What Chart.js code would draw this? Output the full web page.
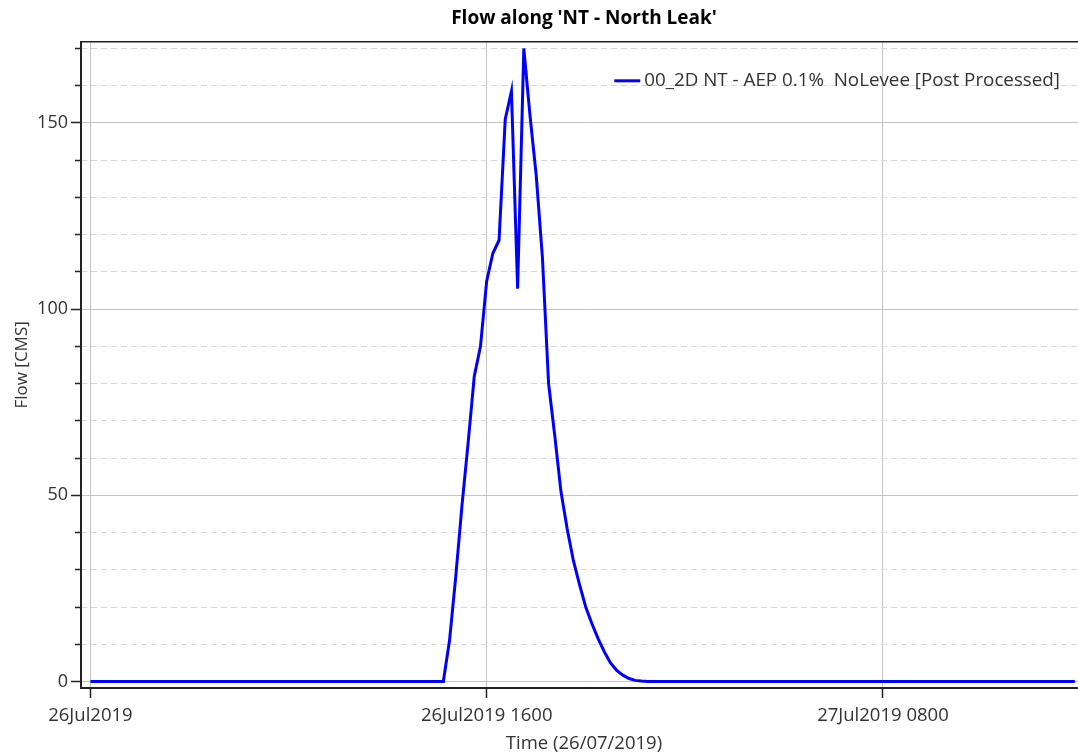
<!DOCTYPE html>
<html>
<head>
<meta charset="utf-8">
<script src="https://cdn.jsdelivr.net/npm/chart.js@4.4.1/dist/chart.umd.min.js"></script>
<style>
  html, body { margin: 0; padding: 0; background: #fff; overflow: hidden; }
  #wrap { width: 1090px; height: 756px; }
</style>
</head>
<body>
<div id="wrap"><canvas id="flow-chart" width="1090" height="756"></canvas></div>
<script>
// Hydrograph: hours since 26Jul2019 0000 -> flow (CMS)
const FLOW_HOURS = [0, 14.25, 14.5, 14.75, 15, 15.25, 15.5, 15.75, 16, 16.25, 16.5, 16.75, 17, 17.25,
  17.5, 17.75, 18, 18.25, 18.5, 18.75, 19, 19.25, 19.5, 19.75, 20, 20.25, 20.5, 20.75, 21, 21.25,
  21.5, 21.75, 22, 22.25, 22.5, 39.75];
const FLOW_CMS = [0, 0, 11, 28, 47, 64, 82, 90, 107.5, 115, 118.5, 151, 158.5, 105.5,
  170, 152, 136, 114, 80, 66, 51, 41, 32.5, 26, 20, 15.5, 11.5, 8, 5, 3,
  1.7, 0.8, 0.3, 0.1, 0, 0];
const SERIES_LABEL = "00_2D NT - AEP 0.1%  NoLevee [Post Processed]";

const X_TICK_HOURS = [0, 16, 32];
const X_TICK_LABELS = ["26Jul2019", "26Jul2019 1600", "27Jul2019 0800"];
const Y_MAJOR_TICKS = [0, 50, 100, 150];
const Y_MINOR_TICKS = [10, 20, 30, 40, 60, 70, 80, 90, 110, 120, 130, 140, 160, 170];

const X_MIN = -0.38, X_MAX = 40.24;
const Y_MIN = -1.75, Y_MAX = 171.8;

const FONT = '"Open Sans", "Noto Sans", sans-serif';
const TEXT_COLOR = "#333";
const AXIS_COLOR = "#222";

// legend sits inside the plot, top right
const insideLegend = {
  id: "insideLegend",
  afterDatasetsDraw(chart) {
    const { ctx, chartArea } = chart;
    const ds = chart.data.datasets[0];
    ctx.save();
    ctx.font = "18.8px " + FONT;
    const textW = ctx.measureText(ds.label).width;
    const xText = chartArea.right - 27 - textW;
    const y = chartArea.top + 39;
    ctx.strokeStyle = ds.borderColor;
    ctx.lineWidth = 3;
    ctx.beginPath();
    ctx.moveTo(xText - 30, y);
    ctx.lineTo(xText - 4, y);
    ctx.stroke();
    ctx.fillStyle = TEXT_COLOR;
    ctx.textBaseline = "middle";
    ctx.fillText(ds.label, xText, y);
    ctx.restore();
  },
};

const ctx = document.getElementById("flow-chart").getContext("2d");

new Chart(ctx, {
  type: "line",
  data: {
    datasets: [{
      label: SERIES_LABEL,
      data: FLOW_HOURS.map((h, i) => ({ x: h, y: FLOW_CMS[i] })),
      borderColor: "#0000ff",
      borderWidth: 3,
      pointRadius: 0,
      tension: 0,
      fill: false,
    }],
  },
  options: {
    responsive: false,
    animation: false,
    layout: { padding: { left: 0, right: 3, top: 0, bottom: 0 } },
    plugins: {
      legend: { display: false },
      tooltip: { enabled: false },
      title: {
        display: true,
        fullSize: false,
        text: "Flow along 'NT - North Leak'",
        color: "#000",
        font: { family: FONT, size: 19, weight: "bold" },
        padding: { top: 7, bottom: 12 },
      },
    },
    scales: {
      x: {
        type: "linear",
        position: "bottom",
        min: X_MIN,
        max: X_MAX,
        afterBuildTicks: (axis) => { axis.ticks = X_TICK_HOURS.map((v) => ({ value: v })); },
        afterFit: (axis) => { axis.height = 68; },
        ticks: {
          autoSkip: false,
          maxRotation: 0,
          padding: 7,
          color: TEXT_COLOR,
          font: { family: FONT, size: 18.5 },
          callback: (v) => X_TICK_LABELS[X_TICK_HOURS.indexOf(v)],
        },
        grid: { color: "#c4c4c4", lineWidth: 1, tickLength: 10, tickColor: AXIS_COLOR, tickWidth: 1.5 },
        border: { color: AXIS_COLOR, width: 2 },
        title: {
          display: true,
          text: "Time (26/07/2019)",
          color: TEXT_COLOR,
          font: { family: FONT, size: 18.5 },
          padding: { top: 2, bottom: 1 },
        },
      },
      // top edge of the plot frame
      xTop: {
        type: "linear",
        position: "top",
        min: X_MIN,
        max: X_MAX,
        afterBuildTicks: (axis) => { axis.ticks = []; },
        afterFit: (axis) => { axis.height = 0; },
        ticks: { display: false },
        grid: { display: false, drawTicks: false },
        border: { color: AXIS_COLOR, width: 1.5 },
      },
      y: {
        type: "linear",
        position: "left",
        weight: 1,
        min: Y_MIN,
        max: Y_MAX,
        afterBuildTicks: (axis) => { axis.ticks = Y_MAJOR_TICKS.map((v) => ({ value: v })); },
        afterFit: (axis) => { axis.width = 81; },
        ticks: {
          padding: 3,
          color: TEXT_COLOR,
          font: { family: FONT, size: 18 },
        },
        grid: { color: "#c4c4c4", lineWidth: 1, tickLength: 10, tickColor: AXIS_COLOR, tickWidth: 1.5 },
        border: { color: AXIS_COLOR, width: 2 },
        title: {
          display: true,
          text: "Flow [CMS]",
          color: TEXT_COLOR,
          font: { family: FONT, size: 17 },
          padding: { top: 12, bottom: 0 },
        },
      },
      // minor 10-unit divisions: dashed grid + short ticks
      yMinor: {
        type: "linear",
        position: "left",
        weight: 0,
        min: Y_MIN,
        max: Y_MAX,
        afterBuildTicks: (axis) => { axis.ticks = Y_MINOR_TICKS.map((v) => ({ value: v })); },
        afterFit: (axis) => { axis.width = 0; },
        ticks: { display: false },
        grid: { color: "#d8d8d8", lineWidth: 1, tickLength: 6, tickColor: AXIS_COLOR, tickWidth: 1.5 },
        border: { display: false, dash: [6, 4] },
      },
    },
  },
  plugins: [insideLegend],
});
</script>
</body>
</html>
